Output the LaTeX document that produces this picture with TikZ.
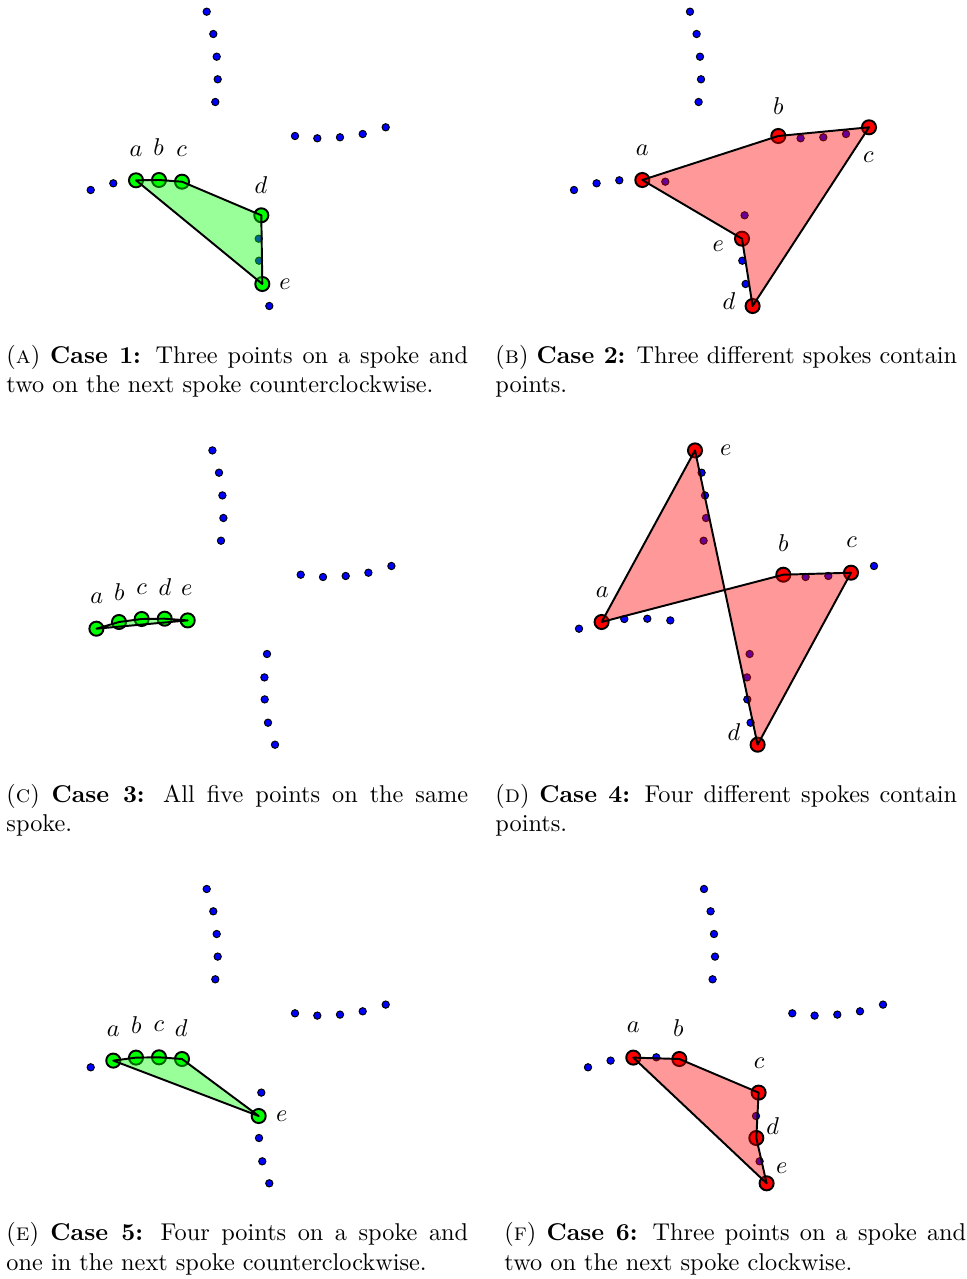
\documentclass[tikz,border=0pt]{standalone}
\usepackage{amsmath}
\usepackage{xcolor}
\usepackage{tikz}
% four spokes of five points each, named <prefix>T1.., <prefix>R1.., <prefix>L1.., <prefix>B1..
\newcommand{\spokedots}[1]{%
  \node[dot] (#1T1) at (206.7,11.7) {};
  \node[dot] (#1T2) at (213.3,34) {};
  \node[dot] (#1T3) at (216.7,56.7) {};
  \node[dot] (#1T4) at (217.7,79.3) {};
  \node[dot] (#1T5) at (215.3,102) {};
  \node[dot] (#1R1) at (295,136) {};
  \node[dot] (#1R2) at (317.3,138.3) {};
  \node[dot] (#1R3) at (340,137.3) {};
  \node[dot] (#1R4) at (362.7,134) {};
  \node[dot] (#1R5) at (385.7,127.3) {};
  \node[dot] (#1L1) at (90.7,190) {};
  \node[dot] (#1L2) at (113.3,183.3) {};
  \node[dot] (#1L3) at (136,180.3) {};
  \node[dot] (#1L4) at (159,180) {};
  \node[dot] (#1L5) at (182,181.7) {};
  \node[dot] (#1B1) at (261.3,215.3) {};
  \node[dot] (#1B2) at (258.7,238.7) {};
  \node[dot] (#1B3) at (259,260.7) {};
  \node[dot] (#1B4) at (262.3,284) {};
  \node[dot] (#1B5) at (269.3,306) {};
}

\begin{document}
\begin{tikzpicture}[
  x=0.4115pt, y=-0.4115pt,
  dot/.style={circle, draw=black, line width=0.4pt, fill=blue, inner sep=0pt, minimum size=3pt},
  hipt/.style={circle, draw=black, line width=0.8pt, inner sep=0pt, minimum size=5.8pt},
  gpt/.style={hipt, fill=green},
  rpt/.style={hipt, fill=red},
  gpoly/.style={draw=black, line width=0.8pt, line join=round, fill=green, fill opacity=0.4},
  rpoly/.style={draw=black, line width=0.8pt, line join=round, fill=red, fill opacity=0.4},
  lbl/.style={inner sep=0pt},
  capbox/.style={anchor=north west, inner sep=0pt, text width=190pt, align=justify}
]
\useasboundingbox (0,0) rectangle (967,1279);

% (a) case 1
\begin{scope}
\spokedots{A}
\node[gpt] (Aa) at (AL3) {};
\node[gpt] (Ab) at (AL4) {};
\node[gpt] (Ac) at (AL5) {};
\node[gpt] (Ad) at (AB1) {};
\node[gpt] (Ae) at (AB4) {};
\draw[gpoly] (Aa.center) -- (Ab.center) -- (Ac.center) -- (Ad.center) -- (Ae.center) -- cycle;
\node[lbl] (Ala) at (136,151.7) {$a$};
\node[lbl] (Alb) at (158.7,146.7) {$b$};
\node[lbl] (Alc) at (181.7,151.7) {$c$};
\node[lbl] (Ald) at (261,185) {$d$};
\node[lbl] (Ale) at (285,284) {$e$};
\end{scope}

% (b) case 2
\begin{scope}[shift={(483.3,0)}]
\spokedots{B}
\node[rpt] (Ba) at (BL4) {};
\node[rpt] (Bb) at (BR1) {};
\node[rpt] (Bc) at (BR5) {};
\node[rpt] (Bd) at (BB5) {};
\node[rpt] (Be) at (BB2) {};
\draw[rpoly] (Ba.center) -- (Bb.center) -- (Bc.center) -- (Bd.center) -- (Be.center) -- cycle;
\node[lbl] (Bla) at (159,150.7) {$a$};
\node[lbl] (Blb) at (295,106) {$b$};
\node[lbl] (Blc) at (385,157.3) {$c$};
\node[lbl] (Bld) at (245.7,301) {$d$};
\node[lbl] (Ble) at (235,246) {$e$};
\end{scope}

% (c) case 3
\begin{scope}[shift={(5.7,438.7)}]
\spokedots{C}
\node[gpt] (Ca) at (CL1) {};
\node[gpt] (Cb) at (CL2) {};
\node[gpt] (Cc) at (CL3) {};
\node[gpt] (Cd) at (CL4) {};
\node[gpt] (Ce) at (CL5) {};
\draw[gpoly] (Ca.center) -- (Cb.center) -- (Cc.center) -- (Cd.center) -- (Ce.center) -- cycle;
\node[lbl] (Cla) at (91,159.6) {$a$};
\node[lbl] (Clb) at (113.6,153) {$b$};
\node[lbl] (Clc) at (136,150.6) {$c$};
\node[lbl] (Cld) at (159.3,148.6) {$d$};
\node[lbl] (Cle) at (181,151.3) {$e$};
\end{scope}

% (d) case 4
\begin{scope}[shift={(488.3,438.7)}]
\spokedots{D}
\node[rpt] (Da) at (DL2) {};
\node[rpt] (Db) at (DR1) {};
\node[rpt] (Dc) at (DR4) {};
\node[rpt] (Dd) at (DB5) {};
\node[rpt] (De) at (DT1) {};
\draw[rpoly] (Da.center) -- (Db.center) -- (Dc.center) -- (Dd.center) -- (De.center) -- cycle;
\node[lbl] (Dla) at (114,153.6) {$a$};
\node[lbl] (Dlb) at (295,104.6) {$b$};
\node[lbl] (Dlc) at (363.4,104) {$c$};
\node[lbl] (Dld) at (245.7,293) {$d$};
\node[lbl] (Dle) at (237.4,11.3) {$e$};
\end{scope}

% (e) case 5
\begin{scope}[shift={(0,877.3)}]
\spokedots{E}
\node[gpt] (Ea) at (EL2) {};
\node[gpt] (Eb) at (EL3) {};
\node[gpt] (Ec) at (EL4) {};
\node[gpt] (Ed) at (EL5) {};
\node[gpt] (Ee) at (EB2) {};
\draw[gpoly] (Ea.center) -- (Eb.center) -- (Ec.center) -- (Ed.center) -- (Ee.center) -- cycle;
\node[lbl] (Ela) at (113.3,153.7) {$a$};
\node[lbl] (Elb) at (136.3,148) {$b$};
\node[lbl] (Elc) at (159,149.4) {$c$};
\node[lbl] (Eld) at (181.3,151) {$d$};
\node[lbl] (Ele) at (281.7,238.7) {$e$};
\end{scope}

% (f) case 6
\begin{scope}[shift={(497.3,877.3)}]
\spokedots{F}
\node[rpt] (Fa) at (FL3) {};
\node[rpt] (Fb) at (FL5) {};
\node[rpt] (Fc) at (FB1) {};
\node[rpt] (Fd) at (FB3) {};
\node[rpt] (Fe) at (FB5) {};
\draw[rpoly] (Fa.center) -- (Fb.center) -- (Fc.center) -- (Fd.center) -- (Fe.center) -- cycle;
\node[lbl] (Fla) at (136,150) {$a$};
\node[lbl] (Flb) at (181,151) {$b$};
\node[lbl] (Flc) at (261.7,186) {$c$};
\node[lbl] (Fld) at (275.4,248.7) {$d$};
\node[lbl] (Fle) at (284.4,291) {$e$};
\end{scope}

% captions
\node[capbox] (capA) at (6,342.6) {\noindent\strut(\textsc{a}) \textbf{Case 1:} Three points on a spoke and\linebreak two on the next spoke counterclockwise.};
\node[capbox] (capB) at (495,342.6) {\noindent\strut(\textsc{b}) \textbf{Case 2:} Three different spokes contain\linebreak points.};
\node[capbox] (capC) at (6,781.3) {\noindent\strut(\textsc{c}) \textbf{Case 3:} All five points on the same\linebreak spoke.};
\node[capbox] (capD) at (495,781.3) {\noindent\strut(\textsc{d}) \textbf{Case 4:} Four different spokes contain\linebreak points.};
\node[capbox] (capE) at (6,1220) {\noindent\strut(\textsc{e}) \textbf{Case 5:} Four points on a spoke and\linebreak one in the next spoke counterclockwise.};
\node[capbox] (capF) at (504,1220) {\noindent\strut(\textsc{f}) \textbf{Case 6:} Three points on a spoke and\linebreak two on the next spoke clockwise.};
\end{tikzpicture}
\end{document}
